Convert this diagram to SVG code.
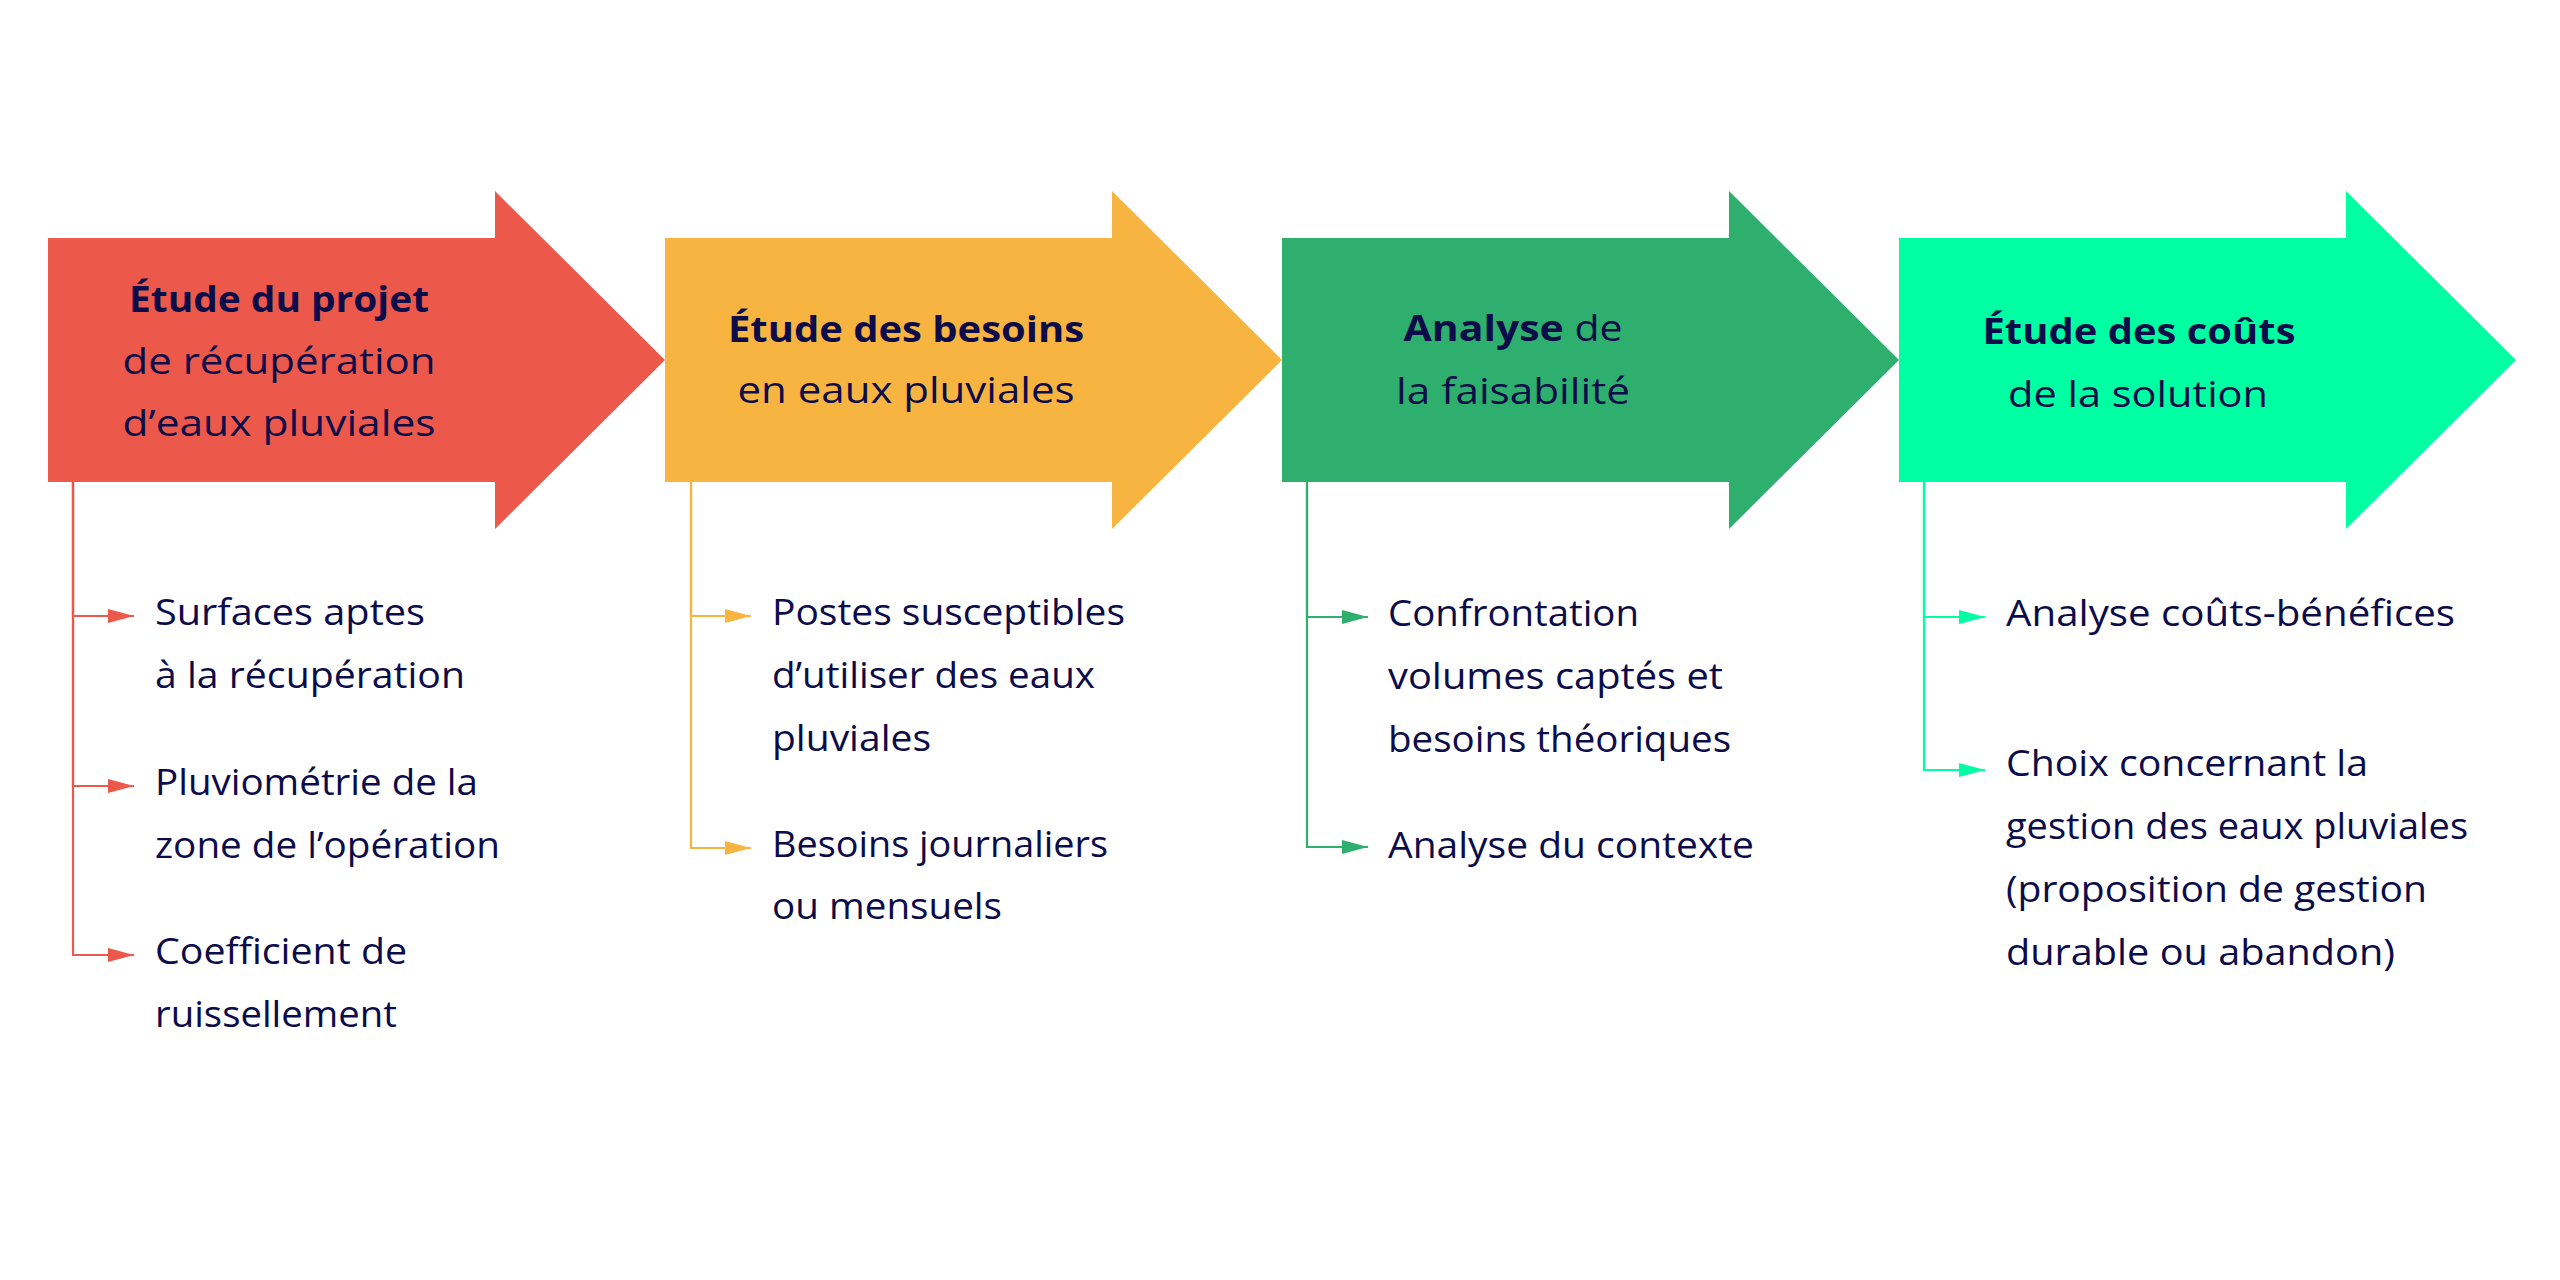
<svg xmlns="http://www.w3.org/2000/svg" width="2560" height="1280" viewBox="0 0 2560 1280">
<style>
  text { font-family: "Open Sans", "Liberation Sans", sans-serif; font-size: 36px; fill: #0C0C4A; }
  .t { text-anchor: middle; }
  .b { font-weight: 700; }
  .c { fill: none; stroke-width: 2.2; }
  .red { fill: #EC594B; } .org { fill: #F8B441; } .grn { fill: #2EAF6D; } .mnt { fill: #00FFA2; }
</style>
<defs>
  <marker id="mr" markerUnits="userSpaceOnUse" markerWidth="26" markerHeight="14" refX="26" refY="7" orient="auto"><path d="M0,0 L26,7 L0,14 Z" fill="#EC594B"/></marker>
  <marker id="mo" markerUnits="userSpaceOnUse" markerWidth="26" markerHeight="14" refX="26" refY="7" orient="auto"><path d="M0,0 L26,7 L0,14 Z" fill="#F8B441"/></marker>
  <marker id="mg" markerUnits="userSpaceOnUse" markerWidth="26" markerHeight="14" refX="26" refY="7" orient="auto"><path d="M0,0 L26,7 L0,14 Z" fill="#2EAF6D"/></marker>
  <marker id="mm" markerUnits="userSpaceOnUse" markerWidth="26" markerHeight="14" refX="26" refY="7" orient="auto"><path d="M0,0 L26,7 L0,14 Z" fill="#00FFA2"/></marker>
</defs>
<rect width="2560" height="1280" fill="#FFFFFF"/>

<g id="step1">
  <path class="red" d="M48,238 H495 V191 L665,360 L495,529 V482 H48 Z"/>
  <text class="t b" x="279" y="312" textLength="300" lengthAdjust="spacingAndGlyphs">Étude du projet</text>
  <text class="t" x="279" y="374" textLength="313" lengthAdjust="spacingAndGlyphs">de récupération</text>
  <text class="t" x="279" y="436" textLength="313" lengthAdjust="spacingAndGlyphs">d’eaux pluviales</text>
</g>
<g id="step2">
  <path class="org" d="M665,238 H1112 V191 L1282,360 L1112,529 V482 H665 Z"/>
  <text class="t b" x="906" y="342" textLength="356" lengthAdjust="spacingAndGlyphs">Étude des besoins</text>
  <text class="t" x="906" y="403" textLength="337" lengthAdjust="spacingAndGlyphs">en eaux pluviales</text>
</g>
<g id="step3">
  <path class="grn" d="M1282,238 H1729 V191 L1899,360 L1729,529 V482 H1282 Z"/>
  <text class="t" x="1513" y="341" textLength="219" lengthAdjust="spacingAndGlyphs"><tspan class="b">Analyse</tspan> de</text>
  <text class="t" x="1513" y="404" textLength="234" lengthAdjust="spacingAndGlyphs">la faisabilité</text>
</g>
<g id="step4">
  <path class="mnt" d="M1899,238 H2346 V191 L2516,360 L2346,529 V482 H1899 Z"/>
  <text class="t b" x="2139" y="344" textLength="313" lengthAdjust="spacingAndGlyphs">Étude des coûts</text>
  <text class="t" x="2138" y="407" textLength="260" lengthAdjust="spacingAndGlyphs">de la solution</text>
</g>

<g id="connectors">
  <path class="c" stroke="#EC594B" marker-end="url(#mr)" d="M73,482 V616 H134"/>
  <path class="c" stroke="#EC594B" marker-end="url(#mr)" d="M73,482 V786 H134"/>
  <path class="c" stroke="#EC594B" marker-end="url(#mr)" d="M73,482 V955 H134"/>
  <path class="c" stroke="#F8B441" marker-end="url(#mo)" d="M691,482 V616 H751"/>
  <path class="c" stroke="#F8B441" marker-end="url(#mo)" d="M691,482 V848 H751"/>
  <path class="c" stroke="#2EAF6D" marker-end="url(#mg)" d="M1307,482 V617 H1368"/>
  <path class="c" stroke="#2EAF6D" marker-end="url(#mg)" d="M1307,482 V847 H1368"/>
  <path class="c" stroke="#00FFA2" marker-end="url(#mm)" d="M1924,482 V617 H1985"/>
  <path class="c" stroke="#00FFA2" marker-end="url(#mm)" d="M1924,482 V770 H1985"/>
</g>

<g id="item1a">
  <text x="155" y="625" textLength="270" lengthAdjust="spacingAndGlyphs">Surfaces aptes</text>
  <text x="155" y="688" textLength="310" lengthAdjust="spacingAndGlyphs">à la récupération</text>
</g>
<g id="item1b">
  <text x="155" y="795" textLength="323" lengthAdjust="spacingAndGlyphs">Pluviométrie de la</text>
  <text x="155" y="858" textLength="345" lengthAdjust="spacingAndGlyphs">zone de l’opération</text>
</g>
<g id="item1c">
  <text x="155" y="964" textLength="252" lengthAdjust="spacingAndGlyphs">Coefficient de</text>
  <text x="155" y="1027" textLength="242" lengthAdjust="spacingAndGlyphs">ruissellement</text>
</g>
<g id="item2a">
  <text x="772" y="625" textLength="353" lengthAdjust="spacingAndGlyphs">Postes susceptibles</text>
  <text x="772" y="688" textLength="323" lengthAdjust="spacingAndGlyphs">d’utiliser des eaux</text>
  <text x="772" y="751" textLength="159" lengthAdjust="spacingAndGlyphs">pluviales</text>
</g>
<g id="item2b">
  <text x="772" y="857" textLength="336" lengthAdjust="spacingAndGlyphs">Besoins journaliers</text>
  <text x="772" y="919" textLength="230" lengthAdjust="spacingAndGlyphs">ou mensuels</text>
</g>
<g id="item3a">
  <text x="1388" y="626" textLength="251" lengthAdjust="spacingAndGlyphs">Confrontation</text>
  <text x="1388" y="689" textLength="335" lengthAdjust="spacingAndGlyphs">volumes captés et</text>
  <text x="1388" y="752" textLength="343" lengthAdjust="spacingAndGlyphs">besoins théoriques</text>
</g>
<g id="item3b">
  <text x="1388" y="858" textLength="366" lengthAdjust="spacingAndGlyphs">Analyse du contexte</text>
</g>
<g id="item4a">
  <text x="2006" y="626" textLength="449" lengthAdjust="spacingAndGlyphs">Analyse coûts-bénéfices</text>
</g>
<g id="item4b">
  <text x="2006" y="776" textLength="362" lengthAdjust="spacingAndGlyphs">Choix concernant la</text>
  <text x="2006" y="839" textLength="462" lengthAdjust="spacingAndGlyphs">gestion des eaux pluviales</text>
  <text x="2006" y="902" textLength="421" lengthAdjust="spacingAndGlyphs">(proposition de gestion</text>
  <text x="2006" y="965" textLength="389" lengthAdjust="spacingAndGlyphs">durable ou abandon)</text>
</g>
</svg>
